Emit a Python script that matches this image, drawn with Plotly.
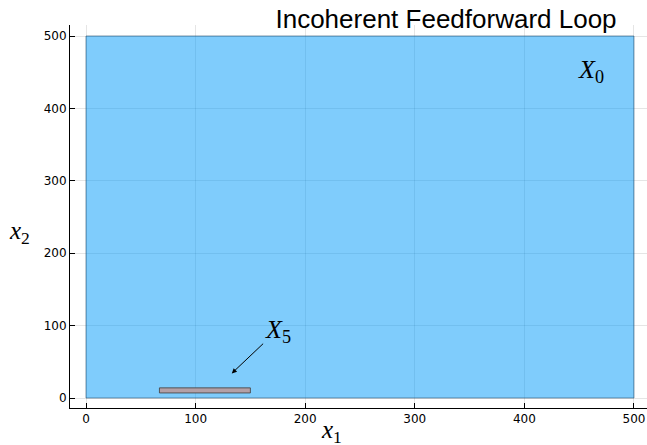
import plotly.graph_objects as go

# Data
title_text = "Incoherent Feedforward Loop"
x0_box = {"x": [0, 500], "y": [0, 500]}
x5_box = {"x": [67, 150], "y": [7, 14]}
tick_vals = [0, 100, 200, 300, 400, 500]
tick_text = ["0", "100", "200", "300", "400", "500"]
label_x0 = (461, 452)
label_x5 = (175, 92)
arrow_from = (163, 77)
arrow_to = (133, 34)

def box_trace(b, fill, line):
    xs = [b["x"][0], b["x"][1], b["x"][1], b["x"][0], b["x"][0]]
    ys = [b["y"][0], b["y"][0], b["y"][1], b["y"][1], b["y"][0]]
    return go.Scatter(x=xs, y=ys, mode="lines", fill="toself", fillcolor=fill,
                      line=dict(color=line, width=1), hoverinfo="skip", showlegend=False)

fig = go.Figure()
fig.add_trace(box_trace(x0_box, "rgba(0,154,250,0.5)", "rgba(40,80,110,0.6)"))
fig.add_trace(box_trace(x5_box, "#b4a0a6", "rgba(60,60,60,0.8)"))

serif = "Liberation Serif"
fig.add_annotation(x=label_x0[0], y=label_x0[1], text="<i>X</i><sub>0</sub>", showarrow=False,
                   font=dict(family=serif, size=26, color="black"))
fig.add_annotation(x=label_x5[0], y=label_x5[1], text="<i>X</i><sub>5</sub>", showarrow=False,
                   font=dict(family=serif, size=26, color="black"))
fig.add_annotation(x=arrow_to[0], y=arrow_to[1], ax=arrow_from[0], ay=arrow_from[1],
                   axref="x", ayref="y", xref="x", yref="y", text="", showarrow=True,
                   arrowhead=2, arrowsize=1, arrowwidth=1, arrowcolor="black")

axis_common = dict(tickmode="array", tickvals=tick_vals, ticktext=tick_text,
                   ticks="inside", ticklen=5, tickcolor="black", showline=True,
                   linecolor="black", linewidth=1, showgrid=True,
                   gridcolor="rgba(0,0,0,0.1)", gridwidth=1, zeroline=False,
                   tickfont=dict(family="DejaVu Sans", size=12, color="black"),
                   mirror=False, automargin=False)

fig.update_layout(
    width=647, height=445,
    margin=dict(l=70, r=0, t=25, b=37, autoexpand=False),
    paper_bgcolor="white", plot_bgcolor="white",
    title=dict(text=title_text, x=0.953, xanchor="right", y=0.977, yanchor="top",
               font=dict(family="Liberation Sans", size=26, color="black"), automargin=False),
    xaxis=dict(range=[-14.6, 511.9], **axis_common),
    yaxis=dict(range=[-13.8, 515.2], **axis_common),
)
fig.add_annotation(xref="paper", yref="paper", x=0.453, y=-0.061, yanchor="middle",
                   text="<i>x</i><sub>1</sub>", showarrow=False,
                   font=dict(family=serif, size=25, color="black"))
fig.add_annotation(xref="paper", yref="paper", x=-0.088, y=0.458, xanchor="center",
                   text="<i>x</i><sub>2</sub>", showarrow=False,
                   font=dict(family=serif, size=25, color="black"))

fig.write_html("out.html", config={"displayModeBar": False},
               post_script="document.body.style.margin='0';document.body.style.overflow='hidden';")
